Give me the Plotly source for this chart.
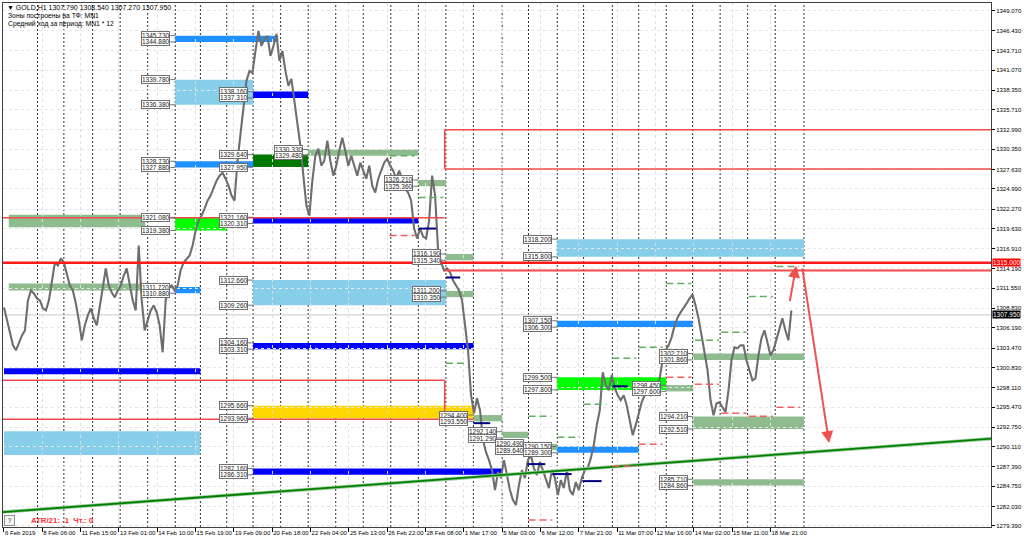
import plotly.graph_objects as go

# ---------------- data ----------------
x_tick_labels = ["6 Feb 2019", "8 Feb 06:00", "11 Feb 15:00", "13 Feb 01:00", "14 Feb 10:00",
                 "15 Feb 19:00", "19 Feb 09:00", "20 Feb 18:00", "22 Feb 04:00", "25 Feb 13:00",
                 "26 Feb 22:00", "28 Feb 08:00", "1 Mar 17:00", "5 Mar 03:00", "6 Mar 12:00",
                 "7 Mar 21:00", "11 Mar 07:00", "12 Mar 16:00", "14 Mar 02:00", "15 Mar 11:00",
                 "18 Mar 21:00"]
x_tick_bars = [0, 32, 64, 96, 128, 160, 192, 224, 256, 288, 320, 352, 384, 416, 448,
               480, 512, 544, 576, 608, 640]
y_tick_values = [1349.07, 1346.43, 1343.71, 1341.07, 1338.35, 1335.71, 1332.99, 1330.35,
                 1327.63, 1324.99, 1322.27, 1319.63, 1316.91, 1314.19, 1311.55, 1308.83,
                 1306.19, 1303.47, 1300.83, 1298.11, 1295.47, 1292.75, 1290.11, 1287.39,
                 1284.75, 1282.03, 1279.39]
day_separators = [28, 50, 74, 97, 120, 143, 164, 186, 208, 231, 254, 277, 300, 323, 346,
                  369, 392, 416, 438, 462, 484, 508, 530, 553, 575, 598, 621, 644, 668]

sample_step_bars = 2.5
close_prices = [
    1308.96, 1307.21, 1305.18, 1303.83, 1303.16, 1304.24, 1305.18, 1305.86, 1309.91, 1311.26,
    1310.85, 1310.18, 1309.91, 1308.83, 1308.56, 1309.91, 1312.61, 1315.04, 1314.63, 1315.58,
    1315.04, 1313.28, 1311.93, 1311.26, 1309.50, 1307.21, 1304.51, 1306.53, 1307.88, 1308.83,
    1307.48, 1306.53, 1309.23, 1311.26, 1314.23, 1311.93, 1310.99, 1310.31, 1311.26, 1311.93,
    1313.28, 1314.23, 1311.93, 1309.91, 1308.56, 1317.34, 1309.91, 1305.86, 1307.21, 1308.56,
    1309.23, 1308.29, 1306.53, 1302.89, 1309.91, 1311.53, 1311.93, 1311.26, 1311.93, 1313.96,
    1315.04, 1315.58, 1315.98, 1317.34, 1319.36, 1320.71,
    1321.39, 1322.33, 1323.41, 1324.09, 1325.03, 1326.11, 1326.79, 1327.19, 1326.38, 1325.44,
    1324.09, 1323.41, 1328.81, 1332.19, 1335.57, 1339.62, 1340.97, 1340.70, 1343.67, 1346.37,
    1344.34, 1345.29, 1345.69, 1342.99, 1344.34, 1345.96, 1342.32, 1343.67, 1340.97, 1338.94,
    1339.89, 1336.92, 1334.22, 1330.84, 1326.79, 1322.74, 1321.39, 1326.11, 1329.49, 1330.43,
    1328.14, 1328.81, 1331.51, 1328.81, 1326.79, 1328.14, 1330.16, 1331.92, 1330.16, 1328.14,
    1329.49, 1328.14, 1326.79, 1328.54, 1327.46, 1326.38, 1328.14, 1325.44, 1324.49, 1326.38,
    1327.46, 1328.54, 1329.08, 1328.14, 1327.46, 1326.38, 1327.46, 1326.11, 1325.03, 1324.49,
    1323.41, 1319.63, 1318.28, 1319.63, 1318.55, 1318.28, 1320.71, 1326.79, 1324.09, 1316.66,
    1315.04, 1313.96, 1314.23, 1313.69, 1312.61, 1311.93, 1311.26, 1309.91, 1306.53, 1303.16,
    1297.08, 1294.65, 1296.67, 1295.05, 1291.00, 1289.38, 1288.30,
    1286.95, 1284.25, 1286.68, 1285.87, 1288.30, 1286.28, 1284.25, 1282.90, 1282.22, 1284.93,
    1286.95, 1285.87, 1288.30, 1288.98, 1287.22, 1286.28, 1288.03, 1286.95, 1285.87, 1284.52,
    1286.95, 1285.87, 1283.58, 1285.60, 1284.52, 1286.95, 1284.25, 1283.58, 1285.33, 1284.25,
    1285.87, 1286.95, 1287.22, 1288.57, 1290.33, 1293.03, 1295.05, 1300.19, 1298.43, 1297.75,
    1299.78, 1298.02, 1297.08, 1296.40, 1297.08, 1295.73, 1293.70, 1291.68, 1293.03, 1294.65,
    1296.13, 1297.08, 1297.75, 1297.08, 1297.35, 1298.43, 1299.37, 1301.81, 1303.16, 1303.83,
    1304.91, 1306.53, 1307.61, 1308.29, 1308.83, 1309.50, 1310.18, 1310.72, 1309.23, 1307.48,
    1305.18, 1302.48, 1300.46, 1296.40, 1294.38, 1296.00, 1296.13, 1295.46, 1294.78, 1297.75,
    1301.81, 1303.56, 1303.43, 1303.83, 1303.83, 1301.81, 1300.46, 1299.10, 1299.37, 1302.48,
    1304.78, 1305.86, 1304.24, 1302.48, 1303.16, 1304.51, 1306.13, 1307.48, 1305.86, 1304.51,
    1308.56]

zone_start = [4, 143, 4, 143, 0, 0, 143, 143, 143, 208, 208, 254, 208, 346, 369, 208, 369,
              208, 208, 392, 208, 416, 438, 462, 462, 462, 462, 553, 575, 575, 575]
zone_end = [118, 186, 114, 164, 164, 164, 229, 208, 208, 254, 254, 346, 346, 369, 392, 369, 392,
            392, 392, 416, 416, 438, 462, 530, 668, 575, 553, 575, 668, 668, 668]
zone_low = [1319.80, 1319.38, 1311.26, 1310.88, 1299.92, 1288.98, 1344.88, 1336.38, 1327.88,
            1337.31, 1327.95, 1329.48, 1320.31, 1325.36, 1315.34, 1309.26, 1310.35, 1303.31,
            1293.96, 1293.55, 1286.31, 1291.29, 1289.64, 1289.30, 1315.80, 1306.30, 1297.80,
            1297.60, 1301.86, 1292.51, 1284.86]
zone_high = [1321.50, 1321.08, 1312.20, 1311.72, 1300.73, 1292.22, 1345.73, 1339.78, 1328.73,
             1338.16, 1329.64, 1330.33, 1321.16, 1326.21, 1316.19, 1312.66, 1311.20, 1304.16,
             1295.66, 1294.40, 1287.16, 1292.14, 1290.49, 1290.15, 1318.20, 1307.15, 1299.50,
             1298.45, 1302.71, 1294.21, 1285.71]
zone_kind = ["sage", "lime", "sage", "dodger", "blue", "sky", "dodger", "sky", "dodger",
             "blue", "dgreen", "sage", "blue", "sage", "sage", "sky", "sage", "blue", "gold",
             "sage", "blue", "sage", "sage", "dodger", "sky", "dodger", "lime", "sage", "sage",
             "sage", "sage"]

label_bars = [143, 143, 143, 143, 143, 143, 143, 143, 143, 143,
              208, 208, 208, 208, 208, 208, 208, 208, 208, 208, 208, 208, 208, 208,
              254, 254, 346, 346, 369, 369, 369, 369, 392, 392, 416, 416, 438, 438,
              462, 462, 462, 462, 462, 462, 462, 462, 553, 553,
              575, 575, 575, 575, 575, 575]
label_prices = [1345.73, 1344.88, 1339.78, 1336.38, 1328.73, 1327.88, 1321.08, 1319.38, 1311.72, 1310.88,
                1338.16, 1337.31, 1329.64, 1327.95, 1321.16, 1320.31, 1312.66, 1309.26, 1304.16, 1303.31,
                1295.66, 1293.96, 1287.16, 1286.31,
                1330.33, 1329.48, 1326.21, 1325.36, 1316.19, 1315.34, 1311.20, 1310.35, 1294.40, 1293.55,
                1292.14, 1291.29, 1290.49, 1289.64,
                1318.20, 1315.80, 1307.15, 1306.30, 1299.50, 1297.80, 1290.15, 1289.30, 1298.45, 1297.60,
                1302.71, 1301.86, 1294.21, 1292.51, 1285.71, 1284.86]

# red horizontal / vertical segments (bar0, bar1, price0, price1)
red_seg_x0 = [-1, 368, -1, 368, 368, 368, -1, 368, -1]
red_seg_x1 = [825, 825, 368, 825, 825, 368, 368, 368, 392]
red_seg_y0 = [1315.00, 1313.96, 1321.10, 1333.00, 1327.70, 1327.70, 1299.10, 1294.80, 1293.84]
red_seg_y1 = [1315.00, 1313.96, 1321.10, 1333.00, 1327.70, 1333.00, 1299.10, 1299.10, 1293.84]
red_seg_width = [2.5, 2, 1.5, 1.5, 1.5, 1.5, 1.5, 1.5, 1.5]

trend_bars = [-1, 825]
trend_prices = [1281.27, 1291.21]

navy_x0 = [346, 369, 392, 437, 458, 483, 508]
navy_x1 = [361, 381, 406, 452, 474, 499, 521]
navy_price = [1319.63, 1313.01, 1293.30, 1287.76, 1286.41, 1285.46, 1298.29]

green_dash_x0 = [322, 346, 369, 438, 462, 484, 508, 530, 553, 577, 599, 622, 645]
green_dash_x1 = [343, 367, 388, 457, 481, 503, 528, 550, 574, 597, 620, 642, 664]
green_dash_price = [1329.49, 1323.82, 1301.40, 1294.24, 1291.41, 1295.86, 1302.08, 1303.56,
                    1312.20, 1304.51, 1305.59, 1310.45, 1314.50]
red_dash_x0 = [322, 438, 508, 530, 553, 577, 599, 622, 645]
red_dash_x1 = [343, 458, 528, 550, 574, 597, 620, 642, 665]
red_dash_price = [1318.69, 1280.20, 1287.49, 1290.46, 1299.51, 1298.56, 1294.65, 1294.24, 1295.46]

arrow_start_bar = [656.0, 666.5]
arrow_start_price = [1309.6, 1314.4]
arrow_end_bar = [661.5, 689.0]
arrow_end_price = [1314.6, 1290.6]

level_price = 1315.000
bid_price = 1307.950
header_line = "▼ GOLD,H1 1307.790 1308.540 1307.270 1307.950"
header_sub1 = "Зоны построены на ТФ: MN1"
header_sub2 = "Средний ход за период: MN1 * 12"
atr_text = "ATR/21: -1  Чт.: 0"

# ---------------- styling ----------------
ZONE_COLORS = {"sage": "#8FBC8F", "lime": "#00FF00", "dodger": "#1E90FF", "blue": "#0000FF",
               "sky": "#87CEEB", "dgreen": "#007800", "gold": "#FFD700"}
FONT = "Liberation Sans"
Y_MIN, Y_MAX = 1279.25, 1350.15
X_MIN, X_MAX = -0.83, 824.2

fig = go.Figure()
shapes = []

for x0, x1, lo, hi, k in zip(zone_start, zone_end, zone_low, zone_high, zone_kind):
    shapes.append(dict(type="rect", xref="x", yref="y", x0=x0, x1=x1, y0=lo, y1=hi,
                       fillcolor=ZONE_COLORS[k], line=dict(width=0), layer="below"))

for s in day_separators:
    shapes.append(dict(type="line", xref="x", yref="paper", x0=s, x1=s, y0=0, y1=1,
                       line=dict(color="#303030", width=1, dash="2px,2px"), layer="below"))

shapes.append(dict(type="line", xref="paper", yref="y", x0=0, x1=1, y0=bid_price, y1=bid_price,
                   line=dict(color="#c8c8c8", width=1), layer="below"))

for x0, x1, y0, y1, w in zip(red_seg_x0, red_seg_x1, red_seg_y0, red_seg_y1, red_seg_width):
    shapes.append(dict(type="line", xref="x", yref="y", x0=x0, x1=x1, y0=y0, y1=y1,
                       line=dict(color="#FF1A1A" if w > 2.2 else "#F24A4A", width=w), layer="above"))

for x0, x1, p in zip(navy_x0, navy_x1, navy_price):
    shapes.append(dict(type="line", xref="x", yref="y", x0=x0, x1=x1, y0=p, y1=p,
                       line=dict(color="#000080", width=2), layer="above"))
for x0, x1, p in zip(green_dash_x0, green_dash_x1, green_dash_price):
    shapes.append(dict(type="line", xref="x", yref="y", x0=x0, x1=x1, y0=p, y1=p,
                       line=dict(color="#5FAF5F", width=1.5, dash="7px,4px"), layer="above"))
for x0, x1, p in zip(red_dash_x0, red_dash_x1, red_dash_price):
    shapes.append(dict(type="line", xref="x", yref="y", x0=x0, x1=x1, y0=p, y1=p,
                       line=dict(color="#F06060", width=1.5, dash="7px,4px"), layer="above"))

# label connectors
for b, p in zip(label_bars, label_prices):
    shapes.append(dict(type="line", xref="x", yref="y", xsizemode="pixel", xanchor=b,
                       x0=-5, x1=0, y0=p, y1=p, line=dict(color="#707070", width=1), layer="above"))

# price series
price_bars = [i * sample_step_bars for i in range(len(close_prices))]
fig.add_trace(go.Scatter(x=price_bars, y=close_prices, mode="lines",
                         line=dict(color="#6e6e6e", width=2.1), hoverinfo="skip"))

# trend line
fig.add_trace(go.Scatter(x=trend_bars, y=trend_prices, mode="lines",
                         line=dict(color="#9ccc9c", width=3.5), hoverinfo="skip"))
fig.add_trace(go.Scatter(x=trend_bars, y=trend_prices, mode="lines",
                         line=dict(color="#008000", width=1.8), hoverinfo="skip"))

annotations = []
for b, p in zip(label_bars, label_prices):
    annotations.append(dict(x=b, y=p, xref="x", yref="y", text=f"{p:.3f}", showarrow=False,
                            xanchor="right", yanchor="middle", xshift=-5,
                            bgcolor="white", bordercolor="#707070", borderwidth=1, borderpad=0,
                            font=dict(family=FONT, size=6.5, color="#202020")))

for sx, sy, ex, ey in zip(arrow_start_bar, arrow_start_price, arrow_end_bar, arrow_end_price):
    annotations.append(dict(x=ex, y=ey, ax=sx, ay=sy, xref="x", yref="y", axref="x", ayref="y",
                            text="", showarrow=True, arrowhead=2, arrowsize=1.2, arrowwidth=2,
                            arrowcolor="#F05050"))

annotations += [
    dict(x=0.002, y=0.992, xref="paper", yref="paper", text=header_line, showarrow=False,
         xanchor="left", yanchor="middle", font=dict(family=FONT, size=7, color="#000")),
    dict(x=0.003, y=0.975, xref="paper", yref="paper", text=header_sub1, showarrow=False,
         xanchor="left", yanchor="middle", font=dict(family=FONT, size=6.8, color="#000")),
    dict(x=0.003, y=0.959, xref="paper", yref="paper", text=header_sub2, showarrow=False,
         xanchor="left", yanchor="middle", font=dict(family=FONT, size=6.8, color="#000")),
    dict(x=0.026, y=0.012, xref="paper", yref="paper", text="<b>" + atr_text + "</b>",
         showarrow=False, xanchor="left", yanchor="middle",
         font=dict(family=FONT, size=7.8, color="#FF3030")),
    dict(x=0.007, y=0.013, xref="paper", yref="paper", text=" ? ", showarrow=False,
         xanchor="center", yanchor="middle", bgcolor="#f4f4f4", bordercolor="#909090",
         borderwidth=1, borderpad=1, font=dict(family=FONT, size=6.5, color="#404040")),
    dict(x=1, y=level_price, xref="paper", yref="y", text=f"{level_price:.3f}", showarrow=False,
         xanchor="left", yanchor="middle", xshift=1, bgcolor="#FF0000", borderpad=0,
         font=dict(family=FONT, size=6.5, color="white")),
    dict(x=1, y=bid_price, xref="paper", yref="y", text=f"{bid_price:.3f}", showarrow=False,
         xanchor="left", yanchor="middle", xshift=1, bgcolor="#000000", borderpad=0,
         font=dict(family=FONT, size=6.5, color="white")),
]

fig.update_layout(width=1024, height=542, margin=dict(l=2, r=32, t=2, b=15),
                  paper_bgcolor="white", plot_bgcolor="white", showlegend=False,
                  shapes=shapes, annotations=annotations)
fig.update_xaxes(range=[X_MIN, X_MAX], tickvals=x_tick_bars, ticktext=x_tick_labels,
                 tickangle=0, ticks="outside", ticklen=4, tickcolor="#000",
                 ticklabelposition="outside right",
                 tickfont=dict(family=FONT, size=6, color="#000"),
                 showgrid=True, gridcolor="#dedede", griddash="dot", gridwidth=1,
                 showline=True, linecolor="#404040", linewidth=1, mirror=True, zeroline=False)
fig.update_yaxes(range=[Y_MIN, Y_MAX], side="right", tickvals=y_tick_values, tickformat=".3f",
                 ticks="outside", ticklen=3, tickcolor="#000",
                 tickfont=dict(family=FONT, size=6, color="#000"),
                 showgrid=True, gridcolor="#e6e6e6", griddash="dot", gridwidth=1,
                 showline=True, linecolor="#404040", linewidth=1, mirror=True, zeroline=False)

fig.write_html("out.html", config={"displayModeBar": False},
               post_script="document.body.style.margin='0';document.body.style.overflow='hidden';")
